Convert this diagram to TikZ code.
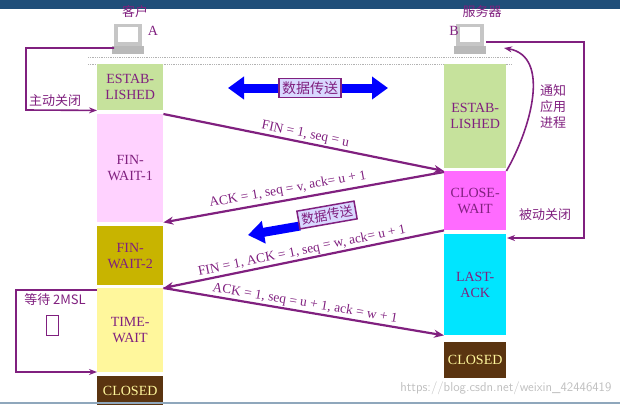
\documentclass[tikz,border=0pt]{standalone}
\usepackage{fontspec}
\setmainfont{Liberation Serif}
\newfontfamily\cjk{Noto Sans CJK SC}
\usetikzlibrary{arrows.meta, positioning, calc}
\definecolor{msgpurple}{HTML}{80207F}
\definecolor{estgreen}{HTML}{C6E29C}
\definecolor{fwpink}{HTML}{FFD2FF}
\definecolor{fwolive}{HTML}{C8B400}
\definecolor{twyellow}{HTML}{FFF79C}
\definecolor{clbrown}{HTML}{5A3410}
\definecolor{cwmagenta}{HTML}{FF6BFF}
\definecolor{lacyan}{HTML}{00E5FF}
\definecolor{topblue}{HTML}{1F4E79}

\begin{document}
\begin{tikzpicture}
   [
      x=1pt, y=-1pt,
      state/.style={rectangle, inner sep=0pt, anchor=north west,
                    text=msgpurple, font=\fontsize{14}{16}\selectfont, align=center},
      msg/.style={-{Stealth[length=10pt,width=8pt]}, line width=2.2pt, msgpurple},
      msg label/.style={text=msgpurple, font=\fontsize{13.5}{15}\selectfont, sloped, above, inner sep=1pt},
      side/.style={line width=1.6pt, msgpurple},
      side label/.style={text=msgpurple, font=\cjk\fontsize{13}{16}\selectfont, align=center},
      data box/.style={draw=msgpurple, line width=1.5pt, fill=blue!15,
                       text=msgpurple, font=\cjk\fontsize{14}{16}\selectfont, inner sep=3pt},
      host/.style={text=msgpurple, font=\cjk\fontsize{13}{15}\selectfont}
   ]
   \useasboundingbox (0,0) rectangle (620,405);
   \fill[topblue] (0,0) rectangle (620,9);

   % =======================================================
   % Hosts
   % =======================================================
   \foreach \hx/\hn in {128/pcA, 470/pcB} {
      \fill[gray!45] (\hx-14,24) rectangle (\hx+14,46);
      \fill[white] (\hx-10,27) rectangle (\hx+10,42);
      \fill[gray!55] (\hx-16,46) rectangle (\hx+16,54);
      \coordinate (\hn) at (\hx,40);
   }
   \node[host] (nameA) at (135,12) {客户};
   \node[host] (nameB) at (482,12) {服务器};
   \node[text=msgpurple, font=\fontsize{14}{16}\selectfont] (letA) at (153,31) {A};
   \node[text=msgpurple, font=\fontsize{14}{16}\selectfont] (letB) at (454,31) {B};

   \draw[gray!60, densely dotted, thick] (88,57) -- (512,57);
   \draw[gray!60, densely dotted, thick] (88,64) -- (512,64);

   % =======================================================
   % Client states
   % =======================================================
   \node[state, fill=estgreen, minimum width=66pt, minimum height=46pt] (estA) at (97,64) {ESTAB-\\LISHED};
   \node[state, fill=fwpink, minimum width=66pt, minimum height=108pt] (fw1) at (97,114) {FIN-\\WAIT-1};
   \node[state, fill=fwolive, minimum width=66pt, minimum height=59pt] (fw2) at (97,226) {FIN-\\WAIT-2};
   \node[state, fill=twyellow, minimum width=66pt, minimum height=84pt] (tw) at (97,288) {TIME-\\WAIT};
   \node[state, fill=clbrown, text=twyellow, minimum width=66pt, minimum height=29pt] (clA) at (97,376) {CLOSED};

   % =======================================================
   % Server states
   % =======================================================
   \node[state, fill=estgreen, minimum width=62pt, minimum height=104pt] (estB) at (444,64) {ESTAB-\\LISHED};
   \node[state, fill=cwmagenta, minimum width=62pt, minimum height=59pt] (cw) at (444,171) {CLOSE-\\WAIT};
   \node[state, fill=lacyan, minimum width=62pt, minimum height=101pt] (la) at (444,234) {LAST-\\ACK};
   \node[state, fill=clbrown, text=twyellow, minimum width=62pt, minimum height=36pt] (clB) at (444,342) {CLOSED};

   % =======================================================
   % Segments
   % =======================================================
   \draw[msg] (fw1.north east) -- node[msg label] {FIN = 1, seq = u} (cw.north west);
   \draw[msg] ([yshift=-1pt]cw.north west) -- node[msg label, pos=0.55, yshift=2pt] {ACK = 1, seq = v, ack= u + 1} (fw1.south east);
   \draw[msg] (cw.south west) -- node[msg label] {FIN = 1, ACK = 1, seq = w, ack= u + 1} (tw.north east);
   \draw[msg] (tw.north east) -- node[msg label] {ACK = 1, seq = u + 1, ack = w + 1} (la.south west);

   % Data transfer
   \draw[blue, line width=9pt, {Triangle[length=16pt,width=22pt]}-{Triangle[length=16pt,width=22pt]}] (228,88) -- (388,88);
   \node[data box] (data1) at (310,88) {数据传送};
   \draw[blue, line width=9pt, -{Triangle[length=16pt,width=22pt]}] (300,226) -- (248,235);
   \node[data box, rotate=10, font=\cjk\fontsize{13}{15}\selectfont] (data2) at (327,215) {数据传送};

   % =======================================================
   % Side annotations
   % =======================================================
   \draw[side, -{Stealth[length=8pt]}] (pcA) ++(-14,8) -- (26,48) -- (26,110) -- (estA.south west);
   \node[side label] (act) at (55,101) {主动关闭};
   \draw[side, -{Stealth[length=8pt]}] (pcB) ++(16,2) -- (584,42) -- (584,238) -- (507,238);
   \node[side label] (pas) at (545,215) {被动关闭};
   \draw[side, -{Stealth[length=8pt]}] (cw.north east) to[out=60, in=-10] (504,48);
   \node[side label] (notify) at (553,107) {通知\\应用\\进程};
   \draw[side, -{Stealth[length=8pt]}] (tw.north west) ++(0,2) -- (16,290) -- (16,372) -- (97,372);
   \node[side label] (wait) at (55,300) {等待 2MSL};
   \draw[msgpurple, thick] (46,315) rectangle (58,335);

   \node[gray!50, font=\sffamily\fontsize{13}{15}\selectfont, anchor=south east] (mark) at (615,398) {https://blog.csdn.net/weixin\_42446419};
   \draw[topblue!50, line width=1.5pt] (0,403) -- (620,403);
\end{tikzpicture}
\end{document}
